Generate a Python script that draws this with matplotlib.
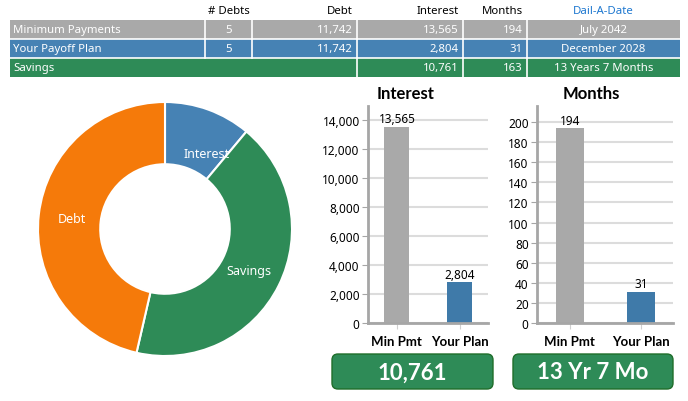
import matplotlib.pyplot as plt
from matplotlib.patches import Rectangle, FancyBboxPatch

plt.rcParams['font.family'] = ['Noto Sans', 'DejaVu Sans']
BOLD = ['Lato', 'DejaVu Sans']

# DATA
bar_categories = ['Min Pmt', 'Your Plan']
interest_vals = [13565, 2804]
months_vals = [194, 31]
interest_ticks = [0, 2000, 4000, 6000, 8000, 10000, 12000, 14000]
months_ticks = [0, 20, 40, 60, 80, 100, 120, 140, 160, 180, 200]

donut_labels = ['Interest', 'Savings', 'Debt']
donut_vals = [2804, 10761, 11742]

table_header = ['', '# Debts', 'Debt', 'Interest', 'Months', 'Dail-A-Date']
row_min = ['Minimum Payments', '5', '11,742', '13,565', '194', 'July 2042']
row_plan = ['Your Payoff Plan', '5', '11,742', '2,804', '31', 'December 2028']
row_save = ['Savings', '', '', '10,761', '163', '13 Years 7 Months']
savings_interest = '10,761'
savings_time = '13 Yr 7 Mo'

GRAY = '#A9A9A9'
BLUE = '#4682B4'
GREEN = '#2E8B57'
ORANGE = '#F57A0A'
BAR_BLUE = '#3F7AA9'

W, H = 688, 402
fig = plt.figure(figsize=(W / 100, H / 100), dpi=100)


def px_axes(l, t, r, b):
    return fig.add_axes([l / W, 1 - b / H, (r - l) / W, (b - t) / H])


# overlay in pixel coords for table, titles and boxes
ov = fig.add_axes([0, 0, 1, 1])
ov.set_xlim(0, W)
ov.set_ylim(H, 0)
ov.axis('off')

col_edges = [10, 205, 252, 357, 463, 527, 680]
aligns = ['left', 'center', 'right', 'right', 'right', 'center']
row_tops = [21, 40, 59]
row_h = 18.5


def cell_x(i, ha):
    if ha == 'left':
        return col_edges[i] + 3
    if ha == 'right':
        return col_edges[i + 1] - 4
    return (col_edges[i] + col_edges[i + 1]) / 2


# header
for i, txt in enumerate(table_header):
    if not txt:
        continue
    ha = aligns[i]
    color = '#1E78D0' if i == 5 else 'black'
    ov.text(cell_x(i, ha), 12, txt, ha=ha, va='center', fontsize=8.2, color=color)

for top, row, color in zip(row_tops, [row_min, row_plan, row_save], [GRAY, BLUE, GREEN]):
    ov.add_patch(Rectangle((col_edges[0], top), col_edges[-1] - col_edges[0], row_h,
                           facecolor=color, edgecolor='none'))
    dividers = col_edges[1:-1] if row is not row_save else col_edges[3:-1]
    for x in dividers:
        ov.plot([x, x], [top, top + row_h], color='white', lw=1.2)
    for i, txt in enumerate(row):
        if txt:
            ov.text(cell_x(i, aligns[i]), top + row_h / 2, txt, ha=aligns[i], va='center',
                    fontsize=8.2, color='white')
for top in row_tops[1:]:
    ov.plot([col_edges[0], col_edges[-1]], [top - 0.5, top - 0.5], color='white', lw=1.2)

# donut
ax_d = px_axes(38, 103, 292, 357)
wedges, texts = ax_d.pie(donut_vals, labels=donut_labels, colors=[BLUE, GREEN, ORANGE],
                         startangle=90, counterclock=False, labeldistance=0.74,
                         wedgeprops=dict(width=0.49, edgecolor='white', linewidth=1.5),
                         textprops=dict(color='white', fontsize=9))
for t in texts:
    t.set_ha('center')
# the Interest label sits a bit lower and further out in the original
tx, ty = texts[0].get_position()
texts[0].set_position((tx * 1.3, ty * 0.85))
ax_d.set_xlim(-1, 1)
ax_d.set_ylim(-1, 1)
ax_d.set_aspect('equal')


def bar_panel(ax, vals, ticks, ymax, fmt):
    bars = ax.bar([0, 1], vals, width=0.4, color=[GRAY, BAR_BLUE], zorder=2)
    ax.set_xlim(-0.46, 1.45)
    ax.set_ylim(0, ymax)
    ax.set_yticks(ticks)
    ax.set_yticklabels([fmt(v) for v in ticks], fontsize=8.5)
    ax.set_xticks([0, 1])
    ax.set_xticklabels(bar_categories, fontsize=9.5, fontweight='bold', family=BOLD)
    ax.yaxis.grid(True, color='#DCDCDC', lw=1.5)
    ax.set_axisbelow(True)
    for s in ['top', 'right']:
        ax.spines[s].set_visible(False)
    for s in ['left', 'bottom']:
        ax.spines[s].set_color('#A6A6A6')
        ax.spines[s].set_linewidth(2)
    ax.tick_params(axis='y', length=4, color='#A6A6A6', pad=2)
    ax.tick_params(axis='x', length=4, color='#D0D0D0', pad=5)
    ax.bar_label(bars, labels=[fmt(v) for v in vals], padding=1, fontsize=8.5)


ax1 = px_axes(368, 107, 488, 324)
bar_panel(ax1, interest_vals, interest_ticks, 15000, lambda v: f'{v:,}')
ax2 = px_axes(537, 107, 673, 324)
bar_panel(ax2, months_vals, months_ticks, 216, lambda v: f'{v}')

ov.text(406, 94, 'Interest', ha='center', va='center', fontsize=12, fontweight='bold', family=BOLD)
ov.text(591, 94, 'Months', ha='center', va='center', fontsize=12, fontweight='bold', family=BOLD)

for (l, r), txt in zip([(332, 493), (513, 673)], [savings_interest, savings_time]):
    ov.add_patch(FancyBboxPatch((l, 355), r - l, 35, boxstyle='round,pad=0,rounding_size=6',
                                facecolor=GREEN, edgecolor='#1F6E2A', lw=1))
    ov.text((l + r) / 2, 373, txt, ha='center', va='center', fontsize=16,
            fontweight='bold', color='white', family=BOLD)

fig.savefig('out.png', dpi=100)
